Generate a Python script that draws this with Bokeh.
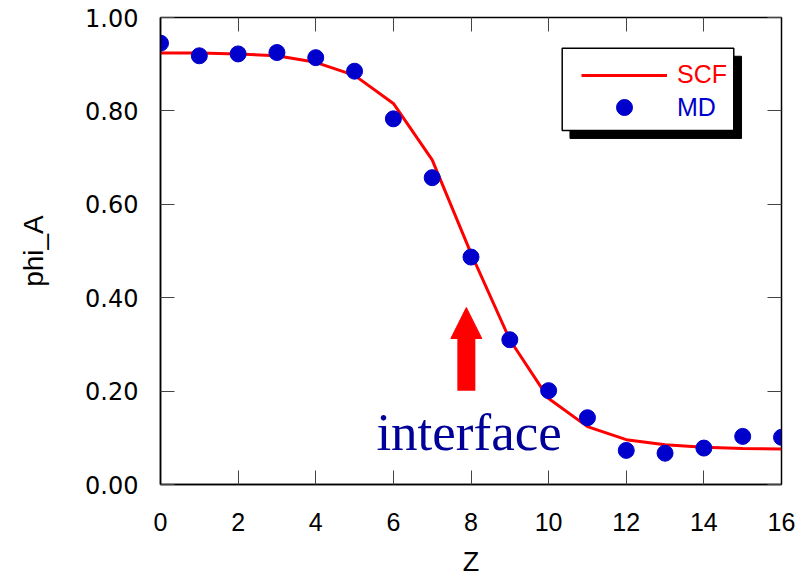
from bokeh.plotting import figure
from bokeh.models import (Range1d, LinearAxis, FixedTicker, Legend, LegendItem,
                          Arrow, NormalHead, Label, NumeralTickFormatter)
from bokeh.core.properties import value
from bokeh.embed import file_html
from bokeh.resources import INLINE

# ---- data ----
z = [0, 1, 2, 3, 4, 5, 6, 7, 8, 9, 10, 11, 12, 13, 14, 15, 16]
md = [0.945, 0.918, 0.922, 0.925, 0.914, 0.885, 0.783, 0.657, 0.487, 0.310,
      0.201, 0.143, 0.073, 0.067, 0.078, 0.103, 0.101]
scf = [0.924, 0.924, 0.922, 0.918, 0.904, 0.876, 0.816, 0.695, 0.495, 0.310,
       0.184, 0.124, 0.096, 0.085, 0.080, 0.077, 0.076]
x_ticks = [0, 2, 4, 6, 8, 10, 12, 14, 16]
y_ticks = [0.0, 0.2, 0.4, 0.6, 0.8, 1.0]
series_names = ["SCF", "MD"]
annotation_text = "interface"

RED = "#ff0000"
BLUE = "#0000cc"
SANS = "Liberation Sans"

p = figure(width=797, height=581, output_backend="svg", toolbar_location=None,
           x_range=Range1d(0, 16), y_range=Range1d(0, 1.0),
           min_border_left=160, min_border_right=16, min_border_top=17,
           min_border_bottom=97)
p.grid.visible = False
p.background_fill_color = "white"
p.border_fill_color = "white"
p.outline_line_color = "black"
p.outline_line_width = 1.5

# bottom axis
xa = p.xaxis[0]
xa.ticker = FixedTicker(ticks=x_ticks)
xa.major_tick_in = 14
xa.major_tick_out = 0
xa.minor_tick_line_color = None
xa.major_tick_line_color = "#444444"
xa.axis_line_color = "black"
xa.axis_line_width = 1.5
xa.major_label_text_font = SANS
xa.major_label_text_font_size = "25px"
xa.major_label_text_color = "black"
xa.major_label_standoff = 28
xa.axis_label = "Z"
xa.axis_label_text_font = SANS
xa.axis_label_text_font_size = "27px"
xa.axis_label_text_font_style = "normal"
xa.axis_label_text_color = "black"
xa.axis_label_standoff = 13

# left axis
ya = p.yaxis[0]
ya.ticker = FixedTicker(ticks=y_ticks)
ya.formatter = NumeralTickFormatter(format="0.00")
ya.major_tick_in = 14
ya.major_tick_out = 0
ya.minor_tick_line_color = None
ya.major_tick_line_color = "#444444"
ya.axis_line_color = "black"
ya.axis_line_width = 1.5
ya.major_label_text_font = "DejaVu Sans"
ya.major_label_text_font_size = "24px"
ya.major_label_text_color = "black"
ya.major_label_standoff = 22
ya.axis_label = "phi_A"
ya.axis_label_text_font = SANS
ya.axis_label_text_font_size = "28px"
ya.axis_label_text_font_style = "normal"
ya.axis_label_text_color = "black"
ya.axis_label_standoff = 33

# top and right mirror axes (ticks only, no labels)
top = LinearAxis(ticker=FixedTicker(ticks=x_ticks), major_tick_in=14, major_tick_out=0,
                 minor_tick_line_color=None, major_label_text_font_size="1px",
                 major_label_overrides={t: "" for t in x_ticks},
                 major_label_standoff=0, axis_line_color="black",
                 major_tick_line_color="#444444")
right = LinearAxis(ticker=FixedTicker(ticks=y_ticks), major_tick_in=14, major_tick_out=0,
                   minor_tick_line_color=None, major_label_text_font_size="1px",
                   major_label_overrides={t: "" for t in y_ticks},
                   major_label_standoff=0, axis_line_color="black",
                   major_tick_line_color="#444444")
p.add_layout(top, "above")
p.add_layout(right, "right")

# legend box with shadow (data coordinates)
p.quad(left=[10.55], right=[14.97], top=[0.917], bottom=[0.741],
       fill_color="black", line_color="black")
p.quad(left=[10.35], right=[14.77], top=[0.934], bottom=[0.758],
       fill_color="white", line_color="black", line_width=1.5)

# data
r_line = p.line(z, scf, line_color=RED, line_width=3)
r_pts = p.scatter(z, md, size=16, fill_color=BLUE, line_color=BLUE)

# arrow + label
p.add_layout(Arrow(end=NormalHead(size=31, fill_color=RED, line_color=RED, line_width=1),
                   x_start=7.88, y_start=0.201, x_end=7.88, y_end=0.379,
                   line_color=RED, line_width=18))
p.add_layout(Label(x=7.95, y=0.113, text=annotation_text, text_align="center",
                   text_baseline="alphabetic", text_font="Liberation Serif",
                   text_font_size="53px", text_color="#000099"))

# legends (two, so that labels can carry their own colours)
leg1 = Legend(items=[LegendItem(label=series_names[0], renderers=[r_line])],
              location=(421, 395), glyph_width=86, glyph_height=24, label_height=24,
              label_standoff=10, padding=0, margin=0, border_line_color=None,
              background_fill_alpha=0, label_text_color=RED,
              label_text_font=SANS, label_text_font_size="25px")
leg2 = Legend(items=[LegendItem(label=series_names[1], renderers=[r_pts])],
              location=(421, 357), glyph_width=86, glyph_height=40, label_height=24,
              label_standoff=10, padding=0, margin=0, border_line_color=None,
              background_fill_alpha=0, label_text_color=BLUE,
              label_text_font=SANS, label_text_font_size="25px")
p.add_layout(leg1, "center")
p.add_layout(leg2, "center")

open("out.html", "w").write(file_html(p, INLINE))
